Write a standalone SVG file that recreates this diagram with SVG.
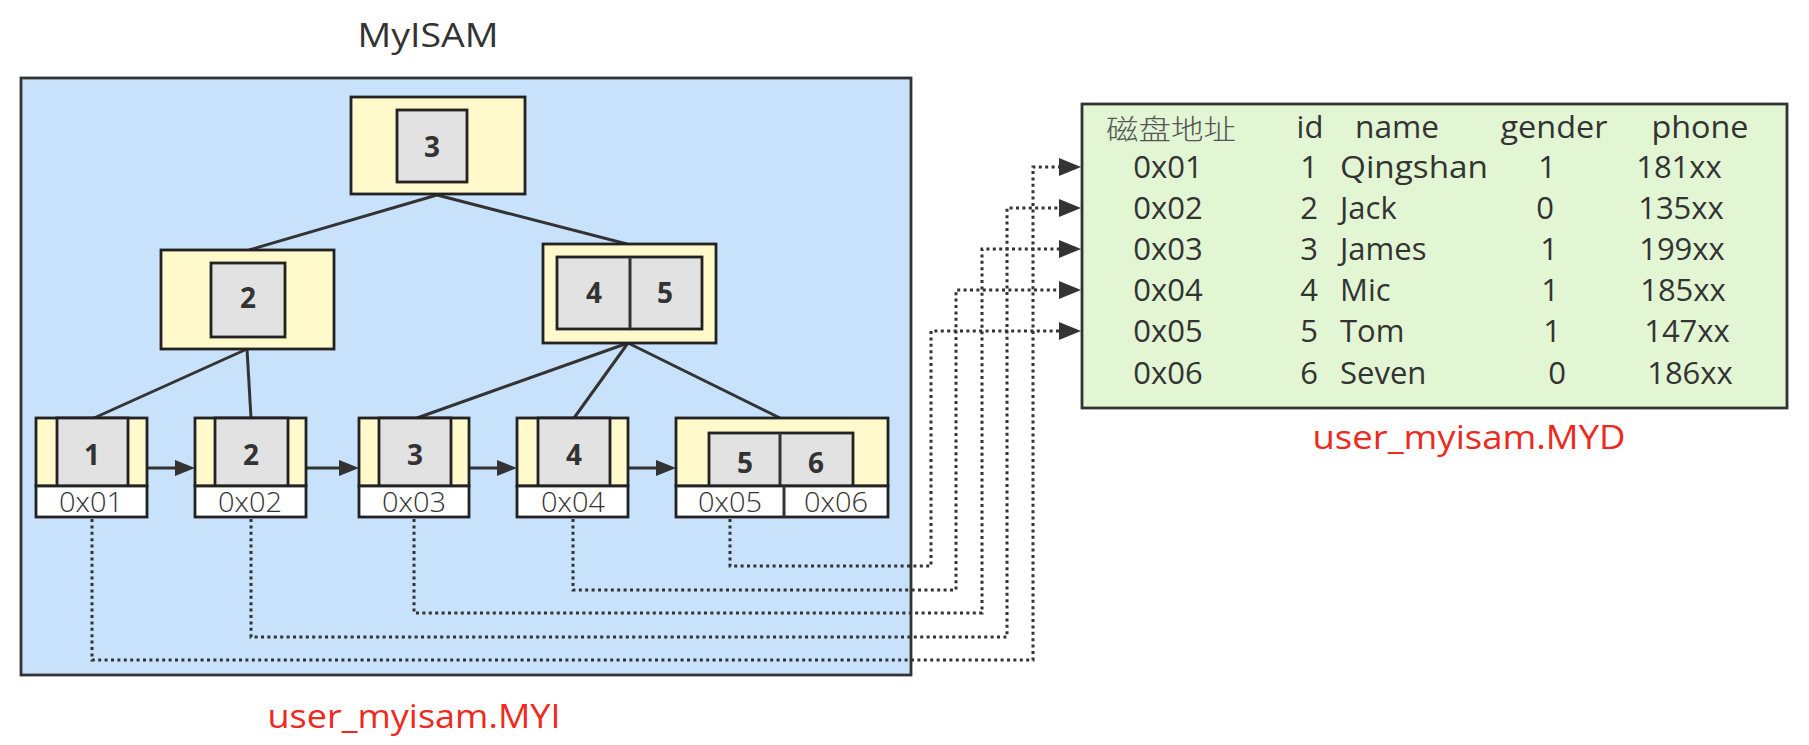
<svg xmlns="http://www.w3.org/2000/svg" width="1809" height="745" viewBox="0 0 1809 745">
<style>
  text { font-family: "Open Sans", "Noto Sans", "Liberation Sans", sans-serif; fill: #333; }
  .bg { fill: #c9e2fb; stroke: #333; stroke-width: 2.8; }
  .yel { fill: #fff9cc; stroke: #222; stroke-width: 2.8; }
  .gray { fill: #e2e2e2; stroke: #222; stroke-width: 2.8; }
  .wht { fill: #ffffff; stroke: #222; stroke-width: 2.8; }
  .tbl { fill: #e2f6d4; stroke: #333; stroke-width: 2.8; }
  .edge { stroke: #333; stroke-width: 3; fill: none; }
  .dot { stroke: #333; stroke-width: 3; stroke-dasharray: 3 3.4; fill: none; }
  .key { font-size: 28px; font-weight: 700; text-anchor: middle; }
  .addr { font-size: 28px; font-weight: 300; text-anchor: middle; }
  .cell { font-size: 31px; }
  .mid { text-anchor: middle; }
  .red { fill: #ee2a1e; font-size: 32px; text-anchor: middle; }
</style>
<defs>
  <marker id="arrS" markerUnits="userSpaceOnUse" markerWidth="20" markerHeight="16" refX="6" refY="8" orient="auto">
    <path d="M0,0 L20,8 L0,16 Z" fill="#333"/>
  </marker>
  <marker id="arrL" markerUnits="userSpaceOnUse" markerWidth="22" markerHeight="18" refX="6" refY="9" orient="auto">
    <path d="M0,0 L22,9 L0,18 Z" fill="#333"/>
  </marker>
</defs>

<text x="428" y="47" font-size="33" class="mid" textLength="141" lengthAdjust="spacingAndGlyphs">MyISAM</text>

<g id="index-file">
  <rect class="bg" x="21" y="78" width="890" height="597"/>
</g>

<g id="connectors">
  <path class="edge" d="M437,195 L249,250"/>
  <path class="edge" d="M437,195 L627,244"/>
  <path class="edge" d="M247,349 L94,418"/>
  <path class="edge" d="M247,349 L251,418"/>
  <path class="edge" d="M628,343 L417,418"/>
  <path class="edge" d="M628,343 L574,418"/>
  <path class="edge" d="M628,343 L780,418"/>
  <path class="edge" d="M147,468 H181" marker-end="url(#arrS)"/>
  <path class="edge" d="M306,468 H345" marker-end="url(#arrS)"/>
  <path class="edge" d="M469,468 H503" marker-end="url(#arrS)"/>
  <path class="edge" d="M628,468 H662" marker-end="url(#arrS)"/>
  <path class="dot" d="M92,519 V660 H1033 V167 H1065" marker-end="url(#arrL)"/>
  <path class="dot" d="M251,519 V637 H1007 V208 H1065" marker-end="url(#arrL)"/>
  <path class="dot" d="M414,519 V613 H982 V249 H1065" marker-end="url(#arrL)"/>
  <path class="dot" d="M573,519 V590 H956 V290 H1065" marker-end="url(#arrL)"/>
  <path class="dot" d="M730,519 V566 H931 V331 H1065" marker-end="url(#arrL)"/>
</g>

<g id="root-node">
  <rect class="yel" x="351" y="97" width="174" height="97"/>
  <rect class="gray" x="397" y="110" width="70" height="72"/>
  <text class="key" x="432" y="157" font-size="26">3</text>
</g>

<g id="node-2">
  <rect class="yel" x="161" y="250" width="173" height="99"/>
  <rect class="gray" x="211" y="263" width="74" height="74"/>
  <text class="key" x="248" y="308">2</text>
</g>

<g id="node-4-5">
  <rect class="yel" x="543" y="244" width="173" height="99"/>
  <rect class="gray" x="557" y="257" width="145" height="72"/>
  <line class="edge" x1="630" y1="257" x2="630" y2="329"/>
  <text class="key" x="594" y="303">4</text>
  <text class="key" x="665" y="303">5</text>
</g>

<g id="leaf-1">
  <rect class="yel" x="36" y="418" width="111" height="68"/>
  <rect class="gray" x="57" y="418" width="71" height="68"/>
  <rect class="wht" x="36" y="486" width="111" height="31"/>
  <text class="key" x="92" y="465" font-size="30">1</text>
  <text class="addr" x="91" y="512" textLength="64" lengthAdjust="spacingAndGlyphs">0x01</text>
</g>

<g id="leaf-2">
  <rect class="yel" x="195" y="418" width="111" height="68"/>
  <rect class="gray" x="215" y="418" width="73" height="68"/>
  <rect class="wht" x="195" y="486" width="111" height="31"/>
  <text class="key" x="251" y="465" font-size="30">2</text>
  <text class="addr" x="250" y="512" textLength="64" lengthAdjust="spacingAndGlyphs">0x02</text>
</g>

<g id="leaf-3">
  <rect class="yel" x="359" y="418" width="110" height="68"/>
  <rect class="gray" x="379" y="418" width="72" height="68"/>
  <rect class="wht" x="359" y="486" width="110" height="31"/>
  <text class="key" x="415" y="465" font-size="30">3</text>
  <text class="addr" x="414" y="512" textLength="64" lengthAdjust="spacingAndGlyphs">0x03</text>
</g>

<g id="leaf-4">
  <rect class="yel" x="517" y="418" width="111" height="68"/>
  <rect class="gray" x="538" y="418" width="72" height="68"/>
  <rect class="wht" x="517" y="486" width="111" height="31"/>
  <text class="key" x="574" y="465" font-size="30">4</text>
  <text class="addr" x="573" y="512" textLength="64" lengthAdjust="spacingAndGlyphs">0x04</text>
</g>

<g id="leaf-5-6">
  <rect class="yel" x="676" y="418" width="212" height="68"/>
  <rect class="gray" x="709" y="433" width="144" height="53"/>
  <line class="edge" x1="780" y1="433" x2="780" y2="486"/>
  <rect class="wht" x="676" y="486" width="212" height="31"/>
  <line class="edge" x1="784" y1="486" x2="784" y2="517"/>
  <text class="key" x="745" y="473">5</text>
  <text class="key" x="816" y="473">6</text>
  <text class="addr" x="730" y="512" textLength="64" lengthAdjust="spacingAndGlyphs">0x05</text>
  <text class="addr" x="836" y="512" textLength="64" lengthAdjust="spacingAndGlyphs">0x06</text>
</g>

<text class="red" x="414" y="728" textLength="293" lengthAdjust="spacingAndGlyphs">user_myisam.MYI</text>

<g id="data-file">
  <rect class="tbl" x="1082" y="104" width="705" height="304"/>
  <text x="1171" y="140" font-size="28" class="mid" textLength="130" lengthAdjust="spacingAndGlyphs" style="font-family:'Noto Sans CJK SC','Noto Sans',sans-serif;fill:#555;font-weight:300">磁盘地址</text>
  <text class="cell mid" x="1310" y="138">id</text>
  <text class="cell mid" x="1397" y="138" textLength="84" lengthAdjust="spacingAndGlyphs">name</text>
  <text class="cell mid" x="1554" y="138" textLength="107" lengthAdjust="spacingAndGlyphs">gender</text>
  <text class="cell mid" x="1700" y="138" textLength="97" lengthAdjust="spacingAndGlyphs">phone</text>

  <text class="cell mid" x="1168" y="178">0x01</text>
  <text class="cell mid" x="1309" y="178">1</text>
  <text class="cell" x="1340" y="178" textLength="148" lengthAdjust="spacingAndGlyphs">Qingshan</text>
  <text class="cell mid" x="1547" y="178">1</text>
  <text class="cell mid" x="1679" y="178">181xx</text>

  <text class="cell mid" x="1168" y="219">0x02</text>
  <text class="cell mid" x="1309" y="219">2</text>
  <text class="cell" x="1340" y="219">Jack</text>
  <text class="cell mid" x="1545" y="219">0</text>
  <text class="cell mid" x="1681" y="219">135xx</text>

  <text class="cell mid" x="1168" y="260">0x03</text>
  <text class="cell mid" x="1309" y="260">3</text>
  <text class="cell" x="1340" y="260">James</text>
  <text class="cell mid" x="1549" y="260">1</text>
  <text class="cell mid" x="1682" y="260">199xx</text>

  <text class="cell mid" x="1168" y="301">0x04</text>
  <text class="cell mid" x="1309" y="301">4</text>
  <text class="cell" x="1340" y="301">Mic</text>
  <text class="cell mid" x="1550" y="301">1</text>
  <text class="cell mid" x="1683" y="301">185xx</text>

  <text class="cell mid" x="1168" y="342">0x05</text>
  <text class="cell mid" x="1309" y="342">5</text>
  <text class="cell" x="1340" y="342">Tom</text>
  <text class="cell mid" x="1552" y="342">1</text>
  <text class="cell mid" x="1687" y="342">147xx</text>

  <text class="cell mid" x="1168" y="384">0x06</text>
  <text class="cell mid" x="1309" y="384">6</text>
  <text class="cell" x="1340" y="384">Seven</text>
  <text class="cell mid" x="1557" y="384">0</text>
  <text class="cell mid" x="1690" y="384">186xx</text>
</g>

<text class="red" x="1469" y="449" textLength="313" lengthAdjust="spacingAndGlyphs">user_myisam.MYD</text>
</svg>
